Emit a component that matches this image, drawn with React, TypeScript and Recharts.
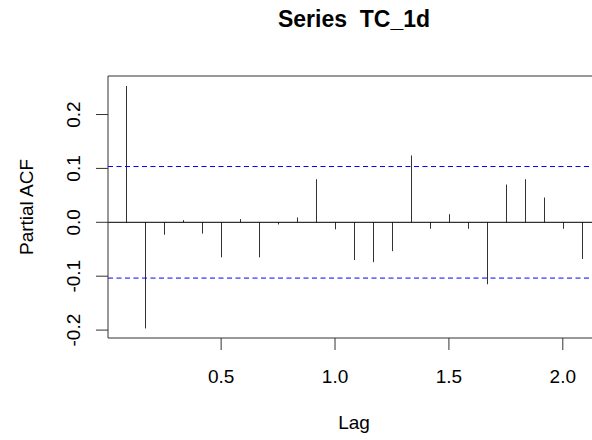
import React from "react";
import { ComposedChart, Bar, XAxis, YAxis, ReferenceLine } from "recharts";

const lags = [
  0.0833, 0.1667, 0.25, 0.3333, 0.4167, 0.5, 0.5833, 0.6667, 0.75, 0.8333,
  0.9167, 1.0, 1.0833, 1.1667, 1.25, 1.3333, 1.4167, 1.5, 1.5833, 1.6667,
  1.75, 1.8333, 1.9167, 2.0, 2.0833,
];
const pacfValues = [
  0.253, -0.197, -0.023, 0.004, -0.021, -0.065, 0.006, -0.065, -0.004, 0.009,
  0.08, -0.013, -0.07, -0.074, -0.0535, 0.124, -0.012, 0.015, -0.012, -0.115,
  0.07, 0.08, 0.046, -0.012, -0.068,
];
const confLimit = 0.1035;
const xTicks = [0.5, 1.0, 1.5, 2.0];
const yTicks = [-0.2, -0.1, 0.0, 0.1, 0.2];
const xDomain = [0.0033, 2.1633];
const yDomain = [-0.2147, 0.2715];

const title = "Series\u00a0\u00a0TC_1d";
const xLabel = "Lag";
const yLabel = "Partial ACF";

const data = lags.map((lag, i) => ({ lag, pacf: pacfValues[i] }));

const FONT = "'Liberation Sans', Arial, sans-serif";
const W = 610;
const H = 440;
const M = { top: 76, right: 10, left: 48, bottom: 42 };
const YW = 60;
const XH = 60;
const plotLeft = M.left + YW;
const plotRight = W - M.right;
const plotTop = M.top;
const plotBottom = H - M.bottom - XH;

const Spike = (props: any) => {
  const { x, y, width, height } = props;
  const cx = Math.round(x + width / 2) + 0.5;
  return (
    <line x1={cx} x2={cx} y1={y} y2={y + height} stroke="#333" strokeWidth={1} />
  );
};

const XTick = (props: any) => {
  const { x, payload } = props;
  return (
    <text x={x} y={plotBottom + 45} textAnchor="middle" fontFamily={FONT} fontSize={19} fill="#000">
      {Number(payload.value).toFixed(1)}
    </text>
  );
};

const YTick = (props: any) => {
  const { y, payload } = props;
  const bx = plotLeft - 28;
  return (
    <text
      x={bx}
      y={y}
      transform={`rotate(-90, ${bx}, ${y})`}
      textAnchor="middle"
      fontFamily={FONT}
      fontSize={19}
      fill="#000"
    >
      {Number(payload.value).toFixed(1)}
    </text>
  );
};

export default function App() {
  const cxPlot = (plotLeft + plotRight) / 2;
  const cyPlot = (plotTop + plotBottom) / 2;
  return (
    <div
      style={{
        position: "absolute",
        left: 0,
        top: 0,
        width: 592,
        height: 440,
        overflow: "hidden",
        background: "#fff",
      }}
    >
      <ComposedChart width={W} height={H} data={data} margin={M}>
        <XAxis
          dataKey="lag"
          type="number"
          domain={xDomain}
          ticks={xTicks}
          allowDataOverflow
          height={XH}
          tickSize={12}
          tickLine={{ stroke: "#333" }}
          axisLine={{ stroke: "#333" }}
          tick={<XTick />}
        />
        <YAxis
          type="number"
          domain={yDomain}
          ticks={yTicks}
          allowDataOverflow
          width={YW}
          tickSize={12}
          tickLine={{ stroke: "#333" }}
          axisLine={{ stroke: "#333" }}
          tick={<YTick />}
        />
        <ReferenceLine y={yDomain[1]} stroke="#333" />
        <ReferenceLine y={0} stroke="#000" />
        <ReferenceLine y={confLimit} stroke="#0000ff" strokeDasharray="5 3.5" />
        <ReferenceLine y={-confLimit} stroke="#0000ff" strokeDasharray="5 3.5" />
        <Bar dataKey="pacf" barSize={1} shape={<Spike />} isAnimationActive={false} />
      </ComposedChart>
      <svg
        width={592}
        height={440}
        style={{ position: "absolute", left: 0, top: 0, pointerEvents: "none" }}
      >
        <text
          x={cxPlot}
          y={27}
          textAnchor="middle"
          fontFamily={FONT}
          fontWeight="bold"
          fontSize={23}
          fill="#000"
        >
          {title}
        </text>
        <text x={cxPlot} y={429} textAnchor="middle" fontFamily={FONT} fontSize={19} fill="#000">
          {xLabel}
        </text>
        <text
          x={32.5}
          y={cyPlot}
          transform={`rotate(-90, 32.5, ${cyPlot})`}
          textAnchor="middle"
          fontFamily={FONT}
          fontSize={19}
          fill="#000"
        >
          {yLabel}
        </text>
      </svg>
    </div>
  );
}
